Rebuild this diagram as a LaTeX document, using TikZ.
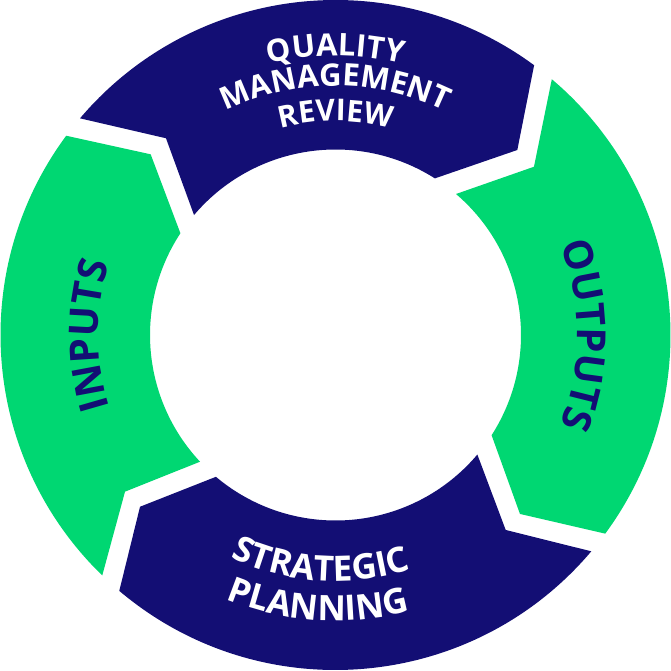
\documentclass[tikz,border=0pt]{standalone}
\usepackage{fontspec}
\setmainfont{Open Sans}
\usetikzlibrary{decorations.text}
\definecolor{navy}{HTML}{130E74}
\definecolor{mint}{HTML}{00D772}
\newcommand\ringfontS{\bfseries\fontsize{31}{31}\selectfont}
\newcommand\ringfontR{\bfseries\fontsize{30}{30}\selectfont}
\newcommand\ringfontB{\bfseries\fontsize{35}{35}\selectfont}
\newcommand\ringfontL{\bfseries\fontsize{40}{40}\selectfont}
\tikzset{
  navyseg/.style={fill=navy},
  mintseg/.style={fill=mint},
}
\begin{document}
\begin{tikzpicture}[x=1pt,y=1pt]
\useasboundingbox (0,0) rectangle (671,670);
\begin{scope}[shift={(335.5,335)}]
  % top segment (navy)
  \fill[navyseg] (139.7:335) arc[start angle=139.7, end angle=53.64, radius=335]
    -- (45.5:259.4) -- (57.6:185.5) arc[start angle=57.6, end angle=139.7, radius=185.5]
    -- (130.75:259.7) -- cycle;
  % right segment (green)
  \fill[mintseg] (49.78:335) arc[start angle=49.78, end angle=-36.37, radius=335]
    -- (-44.13:257) -- (-32.7:185.5) arc[start angle=-32.7, end angle=49.48, radius=185.5]
    -- (40.29:260.2) -- cycle;
  % bottom segment (navy)
  \fill[navyseg] (-40.22:335) arc[start angle=-40.22, end angle=-130.2, radius=335]
    -- (-138.7:260.2) -- (-130.14:185.5) arc[start angle=-130.14, end angle=-40.12, radius=185.5]
    -- (-48.88:258.8) -- cycle;
  % left segment (green)
  \fill[mintseg] (225.87:335) arc[start angle=225.87, end angle=143.5, radius=335]
    -- (135.65:258.5) -- (146.74:185.5) arc[start angle=146.74, end angle=223.08, radius=185.5]
    -- (216.66:262.4) -- cycle;

  % labels
  \path[decorate, decoration={text along path, text align=center, text color=white,
     text={|\ringfontS|QUALITY}}] (160:279) arc[start angle=160, end angle=20, radius=279];
  \path[decorate, decoration={text along path, text align=center, text color=white,
     text={|\ringfontS|MANAGEMENT}}] (160:249) arc[start angle=160, end angle=20, radius=249];
  \path[decorate, decoration={text along path, text align=center, text color=white,
     text={|\ringfontR|REVIEW}}] (160:214) arc[start angle=160, end angle=20, radius=214];

  \path[decorate, decoration={text along path, text align=center, text color=white,
     text={|\ringfontB|STRATEGIC}}] (196.3:246) arc[start angle=196.3, end angle=336.3, radius=246];
  \path[decorate, decoration={text along path, text align=center, text color=white,
     text={|\ringfontB|PLANNING}}] (196.3:286) arc[start angle=196.3, end angle=336.3, radius=286];

  \path[decorate, decoration={text along path, text align=center, text color=navy,
     text={|\ringfontL|INPUTS}}] (240:237) arc[start angle=240, end angle=120, radius=237];
  \path[decorate, decoration={text along path, text align=center, text color=navy,
     text={|\ringfontL|OUTPUTS}}] (60:242) arc[start angle=60, end angle=-60, radius=242];
\end{scope}
\end{tikzpicture}
\end{document}
